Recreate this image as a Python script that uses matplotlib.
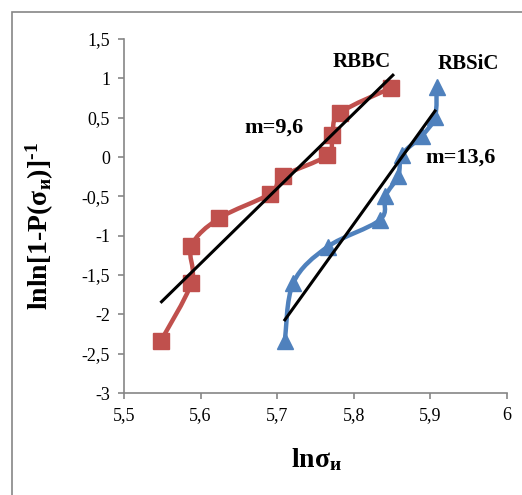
import matplotlib
matplotlib.use("Agg")
import matplotlib.pyplot as plt
from matplotlib.path import Path
from matplotlib.patches import PathPatch, Rectangle
from matplotlib.ticker import FuncFormatter
import numpy as np

plt.rcParams['font.family'] = ['Liberation Serif', 'DejaVu Serif']
plt.rcParams['mathtext.fontset'] = 'custom'
plt.rcParams['mathtext.rm'] = 'Liberation Serif:bold'
plt.rcParams['mathtext.bf'] = 'Liberation Serif:bold'
plt.rcParams['mathtext.it'] = 'Liberation Serif:bold'

# ---- data ----
rbbc_x = [5.548, 5.588, 5.588, 5.624, 5.690, 5.708, 5.765, 5.772, 5.782, 5.849]
rbbc_y = [-2.34, -1.60, -1.13, -0.78, -0.47, -0.24, 0.02, 0.28, 0.56, 0.88]
rbsic_x = [5.710, 5.721, 5.766, 5.834, 5.841, 5.858, 5.863, 5.889, 5.906, 5.908]
rbsic_y = [-2.34, -1.60, -1.14, -0.80, -0.50, -0.24, 0.03, 0.27, 0.51, 0.89]
fit_rbbc_x = [5.549, 5.851]
fit_rbbc_y = [-1.84, 1.04]
fit_rbsic_x = [5.710, 5.906]
fit_rbsic_y = [-2.07, 0.585]
x_ticks = [5.5, 5.6, 5.7, 5.8, 5.9, 6.0]
y_ticks = [-3, -2.5, -2, -1.5, -1, -0.5, 0, 0.5, 1, 1.5]

RED = '#C0504D'
BLUE = '#4F81BD'
GRAY = '#868686'


def smooth_path(xs, ys):
    p = np.column_stack([xs, ys]).astype(float)
    n = len(p)
    verts = [p[0]]
    codes = [Path.MOVETO]
    for i in range(n - 1):
        p0 = p[i - 1] if i > 0 else p[i]
        p1 = p[i]
        p2 = p[i + 1]
        p3 = p[i + 2] if i + 2 < n else p[i + 1]
        c1 = p1 + (p2 - p0) / 6.0
        c2 = p2 - (p3 - p1) / 6.0
        verts += [c1, c2, p2]
        codes += [Path.CURVE4] * 3
    return Path(verts, codes)


W, H = 522, 495
fig = plt.figure(figsize=(W / 100, H / 100), dpi=100)
ax = fig.add_axes([124 / W, 1 - 393 / H, (507 - 124) / W, (393 - 39) / H])

# outer frame
fig.patches.append(Rectangle((12 / W, -0.2), 1.5, 1 - 12 / H + 0.2,
                             transform=fig.transFigure, fill=False,
                             edgecolor=GRAY, linewidth=1.2))

for xs, ys, col, mk in [(rbbc_x, rbbc_y, RED, 's'), (rbsic_x, rbsic_y, BLUE, '^')]:
    ax.add_patch(PathPatch(smooth_path(xs, ys), facecolor='none',
                           edgecolor=col, linewidth=3.2, zorder=2))
    ax.plot(xs, ys, linestyle='none', marker=mk, markersize=11.5,
            color=col, markeredgecolor=col, zorder=3)

ax.plot(fit_rbbc_x, fit_rbbc_y, color='black', linewidth=2.2, zorder=4)
ax.plot(fit_rbsic_x, fit_rbsic_y, color='black', linewidth=2.2, zorder=4)

ax.set_xlim(5.5, 6.0)
ax.set_ylim(-3, 1.5)
ax.set_xticks(x_ticks)
ax.set_yticks(y_ticks)
fmt = FuncFormatter(lambda v, p: ('%g' % round(v, 2)).replace('.', ','))
ax.xaxis.set_major_formatter(fmt)
ax.yaxis.set_major_formatter(fmt)
for s in ['top', 'right']:
    ax.spines[s].set_visible(False)
for s in ['left', 'bottom']:
    ax.spines[s].set_color(GRAY)
    ax.spines[s].set_linewidth(1.2)
ax.tick_params(direction='out', length=4, width=1.2, color=GRAY,
               labelsize=13, labelcolor='black', pad=6)

ax.text(5.81, 1.21, 'RBBC', fontsize=15, fontweight='bold', ha='center', va='center')
ax.text(5.949, 1.18, 'RBSiC', fontsize=15, fontweight='bold', ha='center', va='center')
ax.text(5.696, 0.38, 'm=9,6', fontsize=16, fontweight='bold', ha='center', va='center')
ax.text(5.940, -0.01, 'm=13,6', fontsize=16, fontweight='bold', ha='center', va='center')

fig.text(40 / W, 1 - 226 / H, r'$\mathbf{lnln[1\text{-}P(σ_{и})]^{\text{-}1}}$',
         rotation=90, ha='center', va='center', fontsize=20)
fig.text(317 / W, 1 - 460 / H, r'$\mathbf{lnσ_{и}}$', ha='center', va='center', fontsize=20)

fig.savefig('out.png', dpi=100)
